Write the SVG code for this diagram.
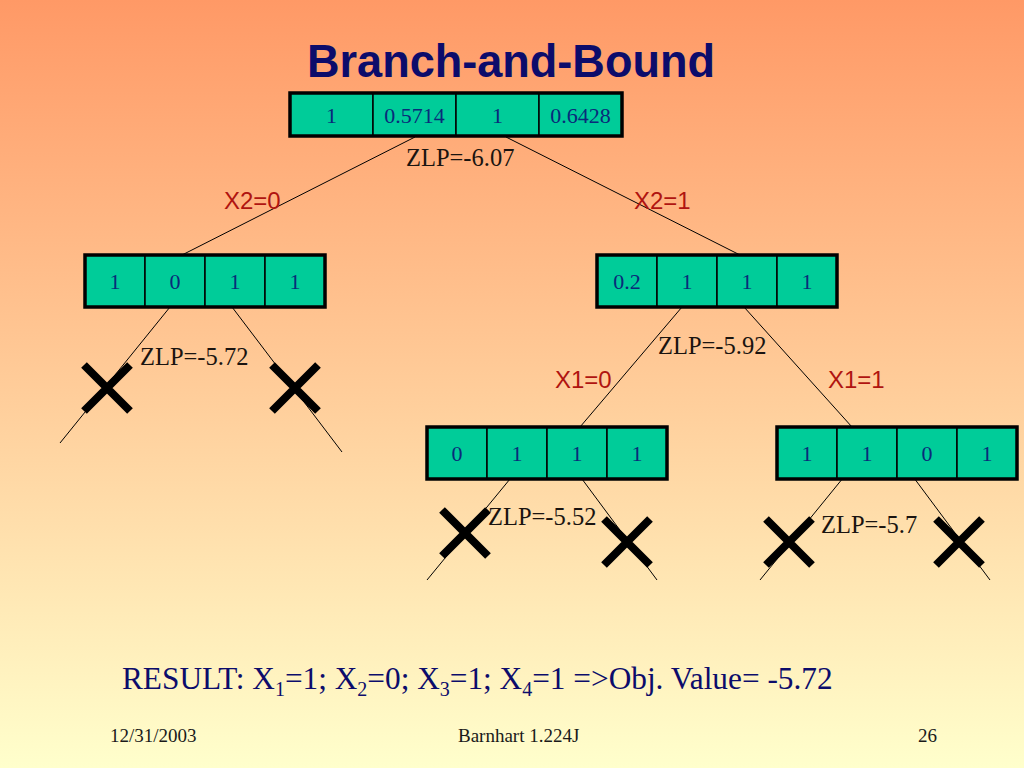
<svg xmlns="http://www.w3.org/2000/svg" width="1024" height="768" viewBox="0 0 1024 768">
<defs>
<linearGradient id="bg" x1="0" y1="0" x2="0" y2="1">
<stop offset="0" stop-color="#FF9966"/>
<stop offset="1" stop-color="#FFFFCC"/>
</linearGradient>
</defs>
<style>
.cell{fill:#00CC99;stroke:#000;stroke-width:1.5}
.frame{fill:none;stroke:#000;stroke-width:3.5}
.v{font-family:"Liberation Serif","Times New Roman",serif;font-size:22px;fill:#0a2a7a;text-anchor:middle}
.zlp{font-family:"Liberation Serif","Times New Roman",serif;font-size:24.5px;fill:#1a1410}
.br{font-family:"Liberation Sans",Arial,sans-serif;font-size:24px;fill:#b01410}
.con{stroke:#000;stroke-width:1;fill:none}
.x{stroke:#000;stroke-width:8;stroke-linecap:butt}
.foot{font-family:"Liberation Serif","Times New Roman",serif;font-size:19px;fill:#1a1a1a}
</style>
<rect x="0" y="0" width="1024" height="768" fill="url(#bg)"/>
<text x="307" y="77" textLength="408" lengthAdjust="spacingAndGlyphs" font-family="Liberation Sans, Arial, sans-serif" font-weight="bold" font-size="46" fill="#0c0c6b">Branch-and-Bound</text>

<g id="connectors">
<line class="con" x1="415" y1="137" x2="182" y2="255"/>
<line class="con" x1="506" y1="137" x2="740" y2="255"/>
<line class="con" x1="170" y1="307" x2="60" y2="443"/>
<line class="con" x1="232" y1="307" x2="342" y2="452"/>
<line class="con" x1="682" y1="307" x2="580" y2="427"/>
<line class="con" x1="744" y1="307" x2="852" y2="427"/>
<line class="con" x1="510" y1="479" x2="427" y2="580"/>
<line class="con" x1="582" y1="479" x2="657" y2="580"/>
<line class="con" x1="843" y1="478" x2="760" y2="580"/>
<line class="con" x1="914" y1="478" x2="990" y2="580"/>
</g>

<g id="node-root">
<rect class="cell" x="290" y="93" width="83" height="43"/>
<rect class="cell" x="373" y="93" width="83" height="43"/>
<rect class="cell" x="456" y="93" width="83" height="43"/>
<rect class="cell" x="539" y="93" width="83" height="43"/>
<rect class="frame" x="290" y="93" width="332" height="43"/>
<text class="v" x="331.5" y="123">1</text>
<text class="v" x="414.5" y="123">0.5714</text>
<text class="v" x="497.5" y="123">1</text>
<text class="v" x="580.5" y="123">0.6428</text>
</g>

<g id="node-x2-0">
<rect class="cell" x="85" y="255" width="60" height="52"/>
<rect class="cell" x="145" y="255" width="60" height="52"/>
<rect class="cell" x="205" y="255" width="60" height="52"/>
<rect class="cell" x="265" y="255" width="60" height="52"/>
<rect class="frame" x="85" y="255" width="240" height="52"/>
<text class="v" x="115" y="289">1</text>
<text class="v" x="175" y="289">0</text>
<text class="v" x="235" y="289">1</text>
<text class="v" x="295" y="289">1</text>
</g>

<g id="node-x2-1">
<rect class="cell" x="597" y="255" width="60" height="52"/>
<rect class="cell" x="657" y="255" width="60" height="52"/>
<rect class="cell" x="717" y="255" width="60" height="52"/>
<rect class="cell" x="777" y="255" width="60" height="52"/>
<rect class="frame" x="597" y="255" width="240" height="52"/>
<text class="v" x="627" y="289">0.2</text>
<text class="v" x="687" y="289">1</text>
<text class="v" x="747" y="289">1</text>
<text class="v" x="807" y="289">1</text>
</g>

<g id="node-x1-0">
<rect class="cell" x="427" y="427" width="60" height="52"/>
<rect class="cell" x="487" y="427" width="60" height="52"/>
<rect class="cell" x="547" y="427" width="60" height="52"/>
<rect class="cell" x="607" y="427" width="60" height="52"/>
<rect class="frame" x="427" y="427" width="240" height="52"/>
<text class="v" x="457" y="461">0</text>
<text class="v" x="517" y="461">1</text>
<text class="v" x="577" y="461">1</text>
<text class="v" x="637" y="461">1</text>
</g>

<g id="node-x1-1">
<rect class="cell" x="777" y="427" width="60" height="52"/>
<rect class="cell" x="837" y="427" width="60" height="52"/>
<rect class="cell" x="897" y="427" width="60" height="52"/>
<rect class="cell" x="957" y="427" width="60" height="52"/>
<rect class="frame" x="777" y="427" width="240" height="52"/>
<text class="v" x="807" y="461">1</text>
<text class="v" x="867" y="461">1</text>
<text class="v" x="927" y="461">0</text>
<text class="v" x="987" y="461">1</text>
</g>

<g id="cuts">
<path class="x" d="M84 365 L130 411 M130 365 L84 411"/>
<path class="x" d="M272 365 L318 411 M318 365 L272 411"/>
<path class="x" d="M442 510 L488 556 M488 510 L442 556"/>
<path class="x" d="M604 519 L650 565 M650 519 L604 565"/>
<path class="x" d="M766 519 L812 565 M812 519 L766 565"/>
<path class="x" d="M936 519 L982 565 M982 519 L936 565"/>
</g>

<g id="labels">
<text class="zlp" x="406" y="166">ZLP=-6.07</text>
<text class="br" x="224" y="209">X2=0</text>
<text class="br" x="634" y="209">X2=1</text>
<text class="zlp" x="140" y="365">ZLP=-5.72</text>
<text class="zlp" x="658" y="354">ZLP=-5.92</text>
<text class="br" x="555" y="388">X1=0</text>
<text class="br" x="828" y="388">X1=1</text>
<text class="zlp" x="488" y="525">ZLP=-5.52</text>
<text class="zlp" x="821" y="533">ZLP=-5.7</text>
</g>

<text x="122" y="689" font-family="Liberation Serif, Times New Roman, serif" font-size="31.3" fill="#0c0c6b">RESULT: X<tspan font-size="20" dy="7">1</tspan><tspan dy="-7">=1; X</tspan><tspan font-size="20" dy="7">2</tspan><tspan dy="-7">=0; X</tspan><tspan font-size="20" dy="7">3</tspan><tspan dy="-7">=1; X</tspan><tspan font-size="20" dy="7">4</tspan><tspan dy="-7">=1 =&gt;Obj. Value= -5.72</tspan></text>

<text class="foot" x="110" y="742">12/31/2003</text>
<text class="foot" x="458" y="742">Barnhart 1.224J</text>
<text class="foot" x="918" y="742">26</text>
</svg>
